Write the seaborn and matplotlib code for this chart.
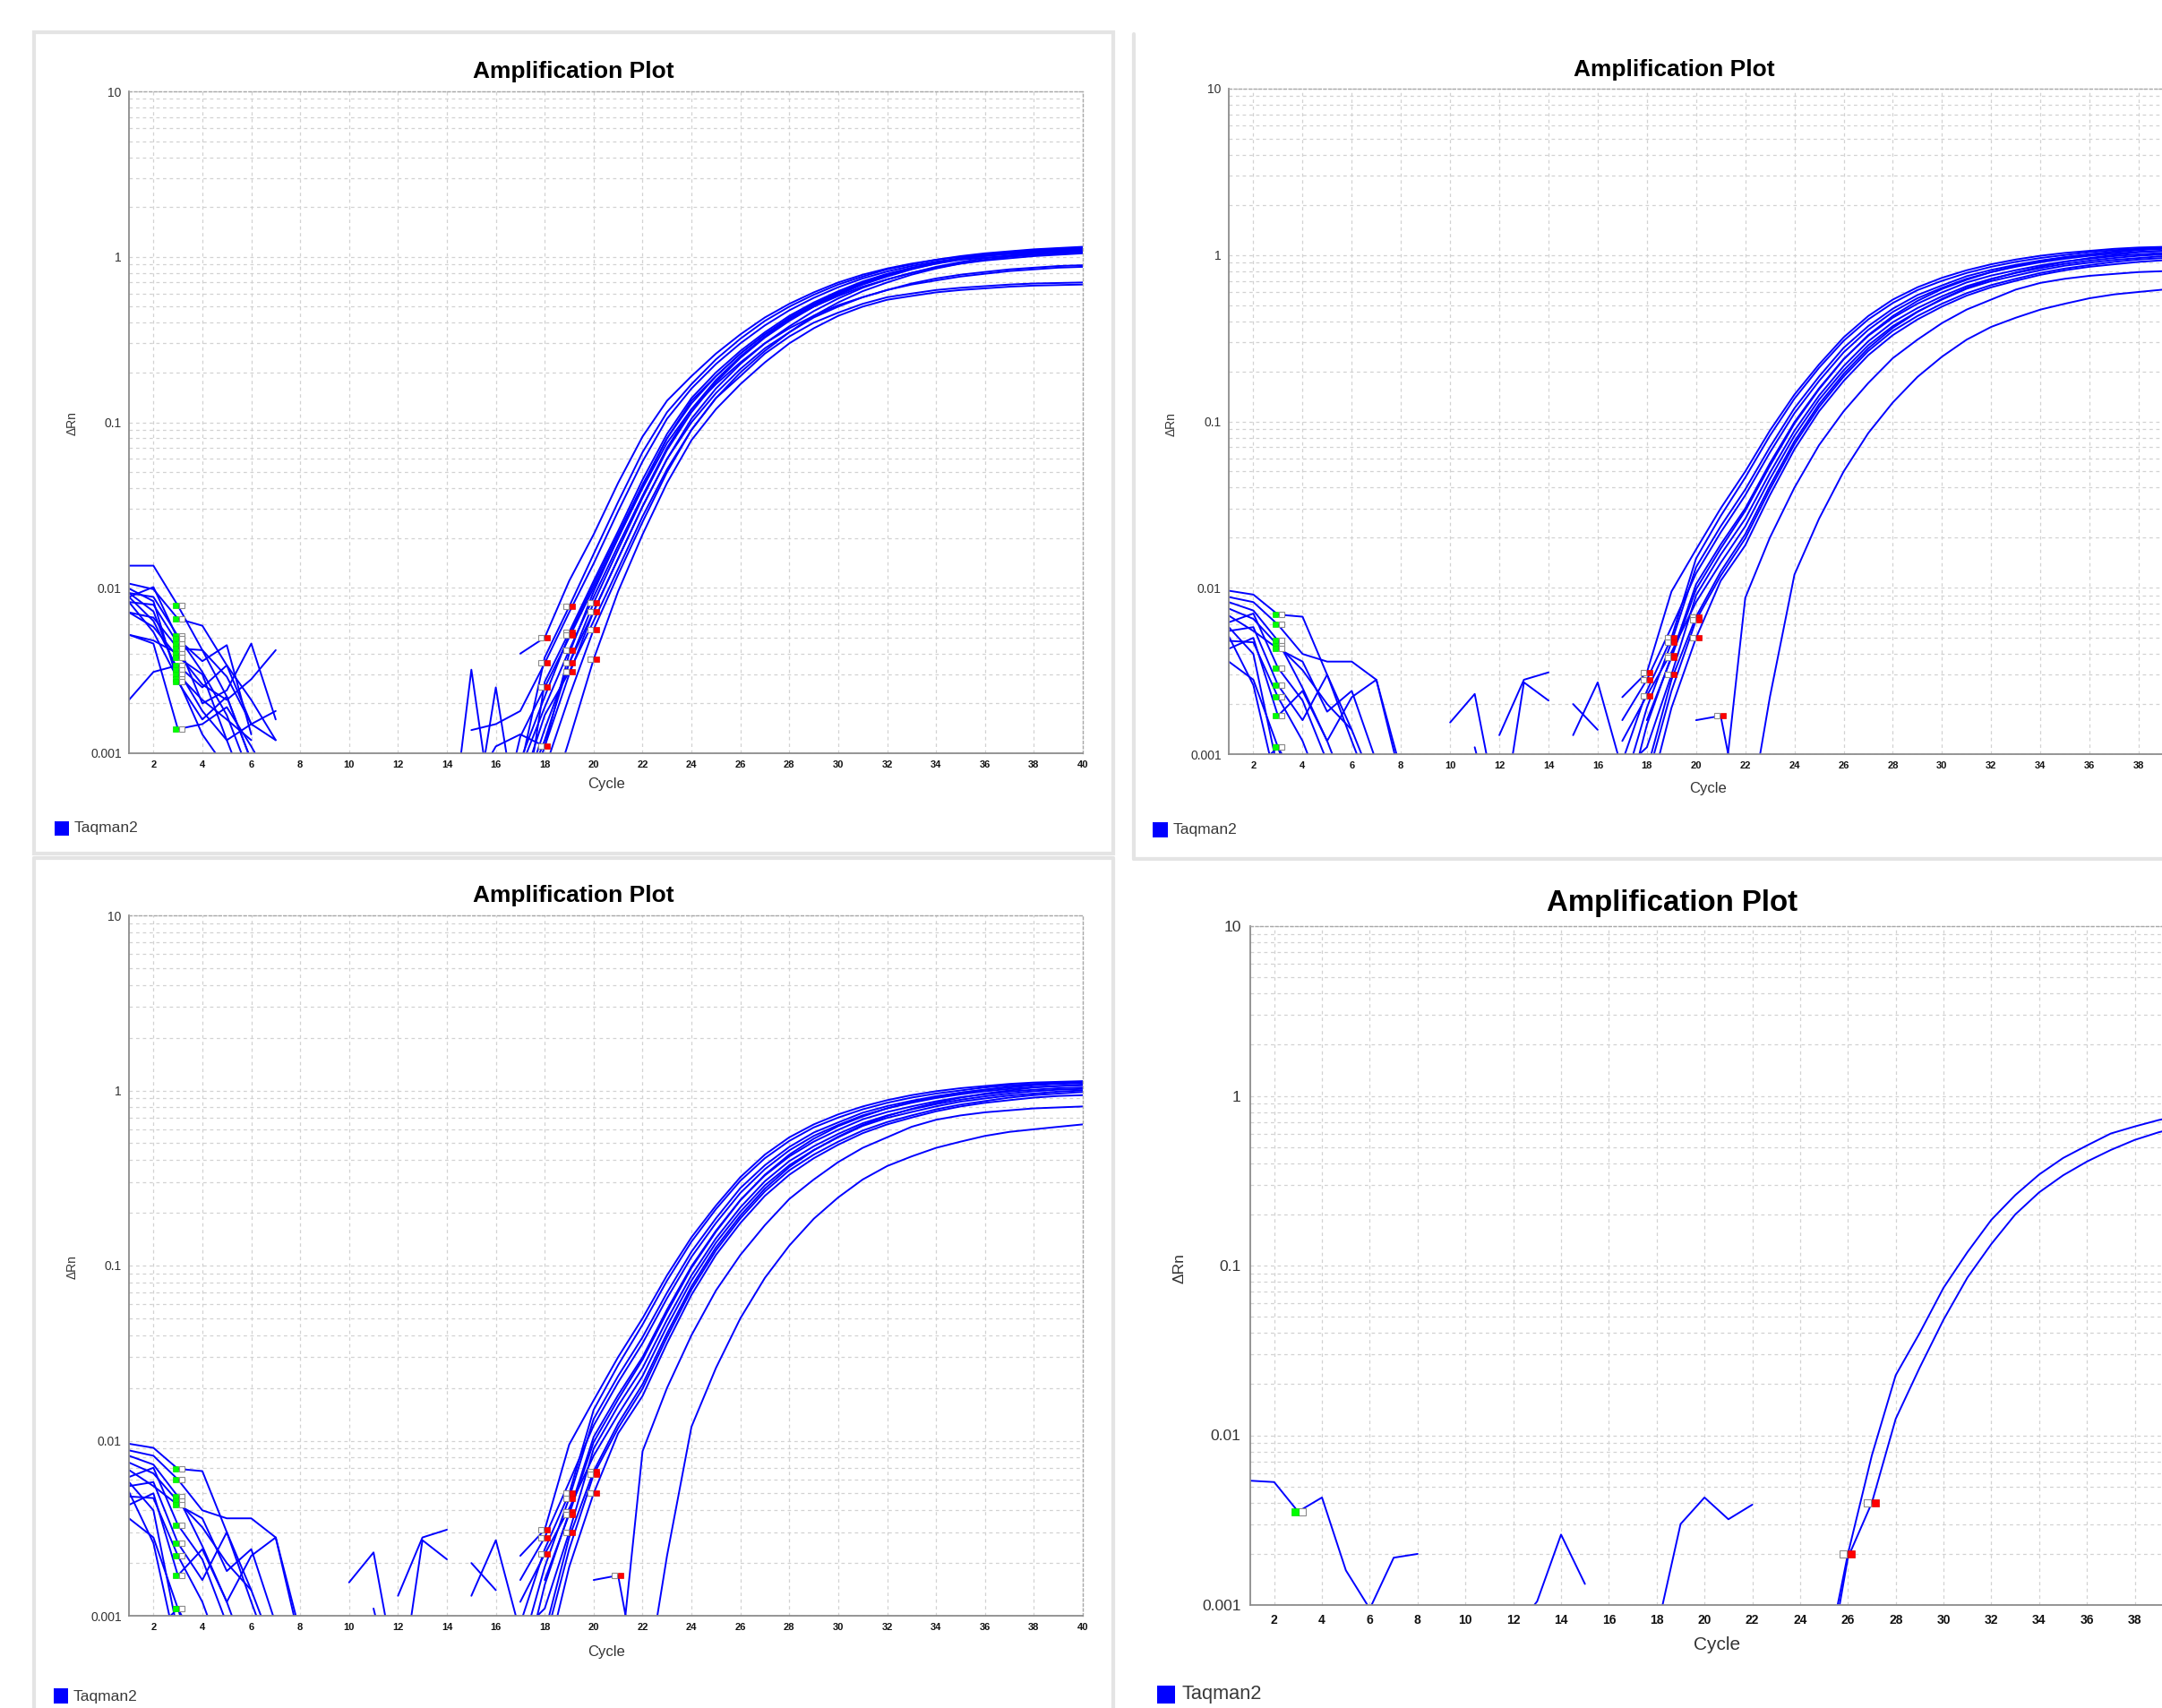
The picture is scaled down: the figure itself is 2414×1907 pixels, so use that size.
import numpy as np
import pandas as pd
import seaborn as sns
import matplotlib.pyplot as plt
import matplotlib.transforms as mtransforms
from matplotlib.lines import Line2D
from matplotlib.patches import Rectangle
from matplotlib.ticker import LogLocator, NullFormatter, NullLocator

# Delta Rn per cycle.
# Every well is a list of pieces (first cycle, values); cycles left out are
# where delta Rn is <= 0 and the log axis draws nothing.

# top-left run
tl_wells = [
    [(1, [0.0136, 0.0136, 0.0078, 0.0042, 0.0022, 0.0009]),
     (17, [0.0040, 0.005, 0.011, 0.021, 0.043, 0.082, 0.135, 0.19, 0.26, 0.34, 0.43, 0.52,
           0.61, 0.70, 0.78, 0.85, 0.91, 0.96, 1.0, 1.03, 1.06, 1.08, 1.10, 1.12])],
    [(1, [0.0106, 0.0098, 0.0065, 0.0059, 0.0034, 0.0015, 0.0012]),
     (15, [0.00138, 0.0015, 0.0018, 0.0035, 0.0071, 0.014, 0.029, 0.058, 0.105, 0.16, 0.225, 0.30,
           0.385, 0.475, 0.565, 0.655, 0.74, 0.815, 0.88, 0.935, 0.98, 1.015, 1.045, 1.07, 1.09, 1.11])],
    [(1, [0.0093, 0.0088, 0.0051, 0.0031, 0.0017, 0.0007]),
     (14, [0.0002, 0.0032, 0.0003, 0.00126, 0.0025, 0.005, 0.010, 0.020, 0.041, 0.080, 0.135, 0.19,
           0.26, 0.34, 0.43, 0.52, 0.61, 0.70, 0.78, 0.85, 0.91, 0.96, 0.99, 1.01, 1.03, 1.05, 1.06])],
    [(1, [0.0088, 0.0101, 0.0049, 0.0036, 0.0045, 0.0013]),
     (15, [0.0006, 0.0011, 0.0013, 0.0011, 0.004, 0.0095, 0.02, 0.04, 0.075, 0.12, 0.17, 0.23,
           0.30, 0.37, 0.44, 0.51, 0.57, 0.63, 0.68, 0.72, 0.76, 0.79, 0.82, 0.84, 0.86, 0.87])],
    [(1, [0.0082, 0.0079, 0.0046, 0.0020, 0.0024, 0.0046, 0.0016]),
     (17, [0.0008, 0.0038, 0.0077, 0.016, 0.033, 0.066, 0.115, 0.17, 0.24, 0.32, 0.41, 0.50,
           0.59, 0.68, 0.76, 0.84, 0.90, 0.96, 1.01, 1.05, 1.08, 1.11, 1.13, 1.15])],
    [(1, [0.0071, 0.0066, 0.0043, 0.0042, 0.0029, 0.0015]),
     (15, [0.0003, 0.0025, 0.0003, 0.0027, 0.0054, 0.011, 0.022, 0.045, 0.085, 0.14, 0.2, 0.27,
           0.35, 0.44, 0.53, 0.62, 0.71, 0.79, 0.86, 0.92, 0.97, 1.01, 1.04, 1.06, 1.08, 1.10])],
    [(1, [0.0052, 0.0048, 0.0040, 0.0026, 0.0021, 0.0028, 0.0042]),
     (17, [0.0009, 0.0022, 0.0052, 0.0105, 0.021, 0.042, 0.08, 0.13, 0.19, 0.26, 0.34, 0.42,
           0.50, 0.58, 0.66, 0.73, 0.80, 0.86, 0.91, 0.95, 0.98, 1.01, 1.03, 1.05])],
    [(1, [0.0071, 0.0058, 0.0038, 0.0030, 0.0012, 0.0005]),
     (17, [0.0008, 0.0019, 0.0042, 0.0088, 0.018, 0.036, 0.07, 0.12, 0.18, 0.25, 0.33, 0.42,
           0.51, 0.60, 0.69, 0.77, 0.85, 0.92, 0.98, 1.03, 1.07, 1.10, 1.12, 1.13])],
    [(1, [0.0021, 0.0031, 0.0034, 0.0025, 0.0034, 0.0021, 0.0012]),
     (17, [0.0005, 0.0014, 0.0035, 0.0072, 0.015, 0.031, 0.06, 0.105, 0.16, 0.225, 0.30, 0.38,
           0.47, 0.56, 0.65, 0.73, 0.80, 0.87, 0.93, 0.98, 1.02, 1.05, 1.07, 1.08])],
    [(1, [0.0088, 0.0063, 0.0032, 0.0018, 0.0012, 0.0015, 0.0018]),
     (17, [0.0006, 0.0017, 0.0031, 0.0063, 0.013, 0.027, 0.052, 0.09, 0.14, 0.19, 0.26, 0.33,
           0.40, 0.46, 0.52, 0.57, 0.60, 0.63, 0.65, 0.665, 0.68, 0.69, 0.695, 0.70])],
    [(1, [0.0093, 0.0072, 0.0030, 0.0021, 0.0016, 0.0012]),
     (17, [0.0005, 0.0012, 0.0035, 0.0081, 0.017, 0.035, 0.068, 0.115, 0.175, 0.245, 0.325, 0.41,
           0.50, 0.59, 0.68, 0.76, 0.84, 0.91, 0.97, 1.02, 1.06, 1.09, 1.11, 1.12])],
    [(1, [0.0082, 0.0054, 0.0028, 0.0013, 0.0008]),
     (17, [0.0004, 0.0011, 0.003, 0.0072, 0.015, 0.031, 0.06, 0.10, 0.15, 0.21, 0.28, 0.35,
           0.43, 0.50, 0.57, 0.63, 0.69, 0.74, 0.78, 0.81, 0.84, 0.86, 0.88, 0.89])],
    [(1, [0.0099, 0.0083, 0.0027, 0.0016, 0.0022, 0.0009]),
     (17, [0.0003, 0.0008, 0.0022, 0.0056, 0.012, 0.025, 0.05, 0.09, 0.14, 0.20, 0.27, 0.35,
           0.44, 0.53, 0.62, 0.70, 0.78, 0.85, 0.91, 0.96, 1.0, 1.03, 1.05, 1.06])],
    [(1, [0.0052, 0.0046, 0.0014, 0.0015, 0.0019, 0.0011, 0.0006]),
     (17, [0.0002, 0.0004, 0.0012, 0.0037, 0.0095, 0.021, 0.043, 0.078, 0.12, 0.17, 0.23, 0.30,
           0.37, 0.44, 0.50, 0.55, 0.58, 0.61, 0.63, 0.645, 0.66, 0.67, 0.675, 0.68])],
]
tl_red = [18, 18, 18, 18, 19, 19, 19, 19, 19, 19, 20, 20, 20, 20]

# top-right run (the bottom-left screenshot shows the same run)
tr_wells = [
    [(1, [0.0096, 0.0091, 0.0069, 0.0067, 0.0030, 0.0012, 0.0005]),
     (17, [0.0022, 0.0031, 0.0095, 0.017, 0.030, 0.050, 0.088, 0.145, 0.22, 0.32, 0.43, 0.54,
           0.64, 0.73, 0.81, 0.88, 0.94, 0.99, 1.03, 1.06, 1.09, 1.11, 1.12, 1.13])],
    [(1, [0.0088, 0.0082, 0.0060, 0.0040, 0.0036, 0.0036, 0.0028, 0.0008]),
     (10, [0.00155, 0.0023, 0.0004]),
     (17, [0.0009, 0.0024, 0.0050, 0.015, 0.027, 0.046, 0.082, 0.137, 0.21, 0.305, 0.41, 0.515,
           0.615, 0.70, 0.78, 0.85, 0.91, 0.96, 1.0, 1.04, 1.07, 1.09, 1.11, 1.12])],
    [(1, [0.0082, 0.0073, 0.0048, 0.0025, 0.0012, 0.0005]),
     (11, [0.0011, 0.0003]),
     (17, [0.0006, 0.0019, 0.0047, 0.0133, 0.0234, 0.039, 0.070, 0.12, 0.186, 0.277, 0.374, 0.476,
           0.575, 0.657, 0.746, 0.814, 0.873, 0.927, 0.971, 1.01, 1.04, 1.07, 1.09, 1.10])],
    [(1, [0.0075, 0.0065, 0.0045, 0.0032, 0.0020, 0.0014, 0.0006]),
     (12, [0.0013, 0.0028, 0.0031]),
     (17, [0.0016, 0.0028, 0.0058, 0.0122, 0.0215, 0.036, 0.065, 0.112, 0.175, 0.26, 0.355, 0.455,
           0.55, 0.635, 0.72, 0.79, 0.85, 0.905, 0.95, 0.99, 1.02, 1.045, 1.06, 1.07])],
    [(1, [0.0068, 0.0055, 0.0043, 0.0036, 0.0018, 0.0024, 0.0009]),
     (12, [0.0003, 0.0027, 0.0021]),
     (17, [0.0004, 0.0015, 0.0039, 0.0105, 0.0182, 0.030, 0.056, 0.099, 0.158, 0.237, 0.327, 0.42,
           0.51, 0.596, 0.684, 0.753, 0.811, 0.867, 0.915, 0.95, 0.985, 1.01, 1.03, 1.04])],
    [(1, [0.0062, 0.0070, 0.0033, 0.0021, 0.0009]),
     (15, [0.0020, 0.0014]),
     (18, [0.0016, 0.0038, 0.0098, 0.0172, 0.029, 0.054, 0.097, 0.156, 0.236, 0.33, 0.43, 0.53,
           0.625, 0.71, 0.79, 0.86, 0.92, 0.97, 1.01, 1.05, 1.08, 1.10, 1.11])],
    [(1, [0.0055, 0.0058, 0.0026, 0.0016, 0.0030, 0.0014]),
     (15, [0.0013, 0.0027, 0.0008, 0.0011, 0.0030, 0.0090, 0.0158, 0.026, 0.049, 0.088, 0.143, 0.215,
           0.303, 0.395, 0.48, 0.565, 0.65, 0.72, 0.78, 0.835, 0.885, 0.925, 0.96, 0.99, 1.01, 1.02])],
    [(1, [0.0048, 0.0047, 0.0022, 0.0012, 0.0005]),
     (17, [0.0012, 0.00225, 0.0041, 0.0082, 0.0141, 0.0234, 0.045, 0.082, 0.135, 0.203, 0.287, 0.374,
           0.457, 0.54, 0.627, 0.697, 0.753, 0.811, 0.863, 0.90, 0.935, 0.96, 0.985, 1.0])],
    [(1, [0.0043, 0.0050, 0.0017, 0.0024, 0.0012, 0.0022, 0.0028, 0.0007]),
     (17, [0.0002, 0.0008, 0.0028, 0.0067, 0.0125, 0.021, 0.041, 0.076, 0.127, 0.193, 0.275, 0.365,
           0.455, 0.545, 0.635, 0.715, 0.785, 0.85, 0.91, 0.96, 1.0, 1.04, 1.06, 1.08])],
    [(1, [0.0036, 0.0028, 0.0011, 0.0004]),
     (17, [0.0002, 0.0007, 0.0024, 0.0064, 0.0118, 0.0198, 0.039, 0.073, 0.122, 0.186, 0.265, 0.35,
           0.43, 0.51, 0.59, 0.66, 0.72, 0.78, 0.83, 0.87, 0.91, 0.94, 0.96, 0.98])],
    [(1, [0.0058, 0.0040, 0.0008]),
     (17, [0.0001, 0.0005, 0.0019, 0.0050, 0.011, 0.018, 0.036, 0.068, 0.115, 0.175, 0.25, 0.33,
           0.41, 0.49, 0.57, 0.64, 0.70, 0.76, 0.81, 0.85, 0.88, 0.91, 0.93, 0.94])],
    [(1, [0.0051, 0.0026, 0.0006]),
     (21, [0.0004, 0.0087, 0.02, 0.04, 0.072, 0.115, 0.17, 0.24, 0.31, 0.39, 0.47, 0.54,
           0.62, 0.68, 0.72, 0.75, 0.77, 0.79, 0.80, 0.81])],
    [(1, [0.0003, 0.0008, 0.0011, 0.0006]),
     (20, [0.0016, 0.0017, 0.0003, 0.0022, 0.012, 0.026, 0.05, 0.085, 0.13, 0.185, 0.245, 0.31,
           0.37, 0.42, 0.47, 0.51, 0.55, 0.58, 0.60, 0.62, 0.64])],
]
tr_red = [18, 19, 19, 18, 19, 19, 19, 18, 20, 20, 20, 21, 21]

# bottom-right run: two wells
br_wells = [
    [(1, [0.0054, 0.0053, 0.00355, 0.0043, 0.0016, 0.00095, 0.0019, 0.0020]),
     (12, [0.0007, 0.00105, 0.0026, 0.00133]),
     (18, [0.0007, 0.0030, 0.0043, 0.0032, 0.0039]),
     (25, [0.0004, 0.0020, 0.0076, 0.0226, 0.040, 0.074, 0.12, 0.186, 0.26, 0.344, 0.43, 0.51,
           0.60, 0.66, 0.72, 0.77])],
    [(25, [0.0003, 0.0019, 0.0040, 0.0125, 0.025, 0.048, 0.085, 0.134, 0.2, 0.27, 0.34, 0.41,
           0.48, 0.55, 0.61, 0.66])],
]
br_red = [26, 27]

baseline_start = 3
cycle_ticks = list(range(2, 41, 2))
cycle_ticks_cropped = list(range(2, 39, 2))   # right-hand shots are cut before 40
drn_ticks = [0.001, 0.01, 0.1, 1, 10]
drn_labels = ["0.001", "0.01", "0.1", "1", "10"]

sns.set_style("white")
plt.rcParams["font.family"] = ["Liberation Sans", "DejaVu Sans"]

W, H = 2414, 1907
fig = plt.figure(figsize=(W / 100, H / 100), dpi=100)
fig.patch.set_facecolor("white")


def fx(x):
    return x / W


def fy(y):
    return 1 - y / H


def at(pieces, c):
    for start, vals in pieces:
        if start <= c < start + len(vals):
            return vals[c - start]
    return np.nan


def frame_line(x0, y0, x1, y1):
    fig.add_artist(Line2D([fx(x0), fx(x1)], [fy(y0), fy(y1)], transform=fig.transFigure,
                          color="#e4e4e4", lw=3))


def panel(box, wells, red_cycles, ticks, title_xy, cycle_xy, drn_xy, key_box, key_xy, s):
    l, t, r, b = box
    ax = fig.add_axes([fx(l), fy(b), (r - l) / W, (b - t) / H])
    ax.set_facecolor("white")
    ax.set_yscale("log")

    rows = []
    for w, pieces in enumerate(wells):
        for p, (start, vals) in enumerate(pieces):
            for i, v in enumerate(vals):
                rows.append((f"{w}.{p}", start + i, v))
    df = pd.DataFrame(rows, columns=["seg", "cycle", "drn"])
    sns.lineplot(data=df, x="cycle", y="drn", units="seg", estimator=None, sort=False,
                 color="#0000ff", linewidth=1.4, legend=False, ax=ax)

    # baseline start (green) and end (red) markers, each with a small grey box
    gy = [at(p, baseline_start) for p in wells]
    gx = [baseline_start] * len(wells)
    ry = [at(p, c) for p, c in zip(wells, red_cycles)]
    off = lambda dx: mtransforms.offset_copy(ax.transData, fig=fig, x=dx, y=0, units="dots")
    ax.plot(gx, gy, ls="none", marker="s", ms=4.6 * s, mfc="white", mec="#8c8c8c", mew=0.8,
            transform=off(4 * s), zorder=4)
    ax.plot(gx, gy, ls="none", marker="s", ms=5 * s, mfc="#00ff00", mec="#00e000", mew=0.5,
            transform=off(-3 * s), zorder=5)
    ax.plot(red_cycles, ry, ls="none", marker="s", ms=4.6 * s, mfc="white", mec="#8c8c8c", mew=0.8,
            transform=off(-4 * s), zorder=4)
    ax.plot(red_cycles, ry, ls="none", marker="s", ms=5 * s, mfc="#ff0000", mec="#e00000", mew=0.5,
            transform=off(3 * s), zorder=5)

    ax.set_xlim(1, 40)
    ax.set_ylim(0.001, 10)
    ax.set_xticks(ticks)
    ax.set_xticklabels([str(c) for c in ticks])
    ax.set_yticks(drn_ticks)
    ax.set_yticklabels(drn_labels)
    ax.yaxis.set_minor_locator(LogLocator(base=10, subs=np.arange(2, 10)))
    ax.yaxis.set_minor_formatter(NullFormatter())
    ax.xaxis.set_minor_locator(NullLocator())
    ax.set_axisbelow(True)
    ax.grid(True, which="both", axis="y", color="#d2d2d2", lw=0.9, ls=(0, (3, 3)))
    ax.grid(True, which="major", axis="x", color="#d2d2d2", lw=0.9, ls=(0, (3, 3)))
    ax.tick_params(which="minor", length=0)
    ax.tick_params(axis="y", which="major", length=3 * s, width=1, color="#8c8c8c", pad=3 * s,
                   labelsize=10 * s, labelcolor="#333333")
    ax.tick_params(axis="x", which="major", length=3 * s, width=1, color="#8c8c8c", pad=2.5 * s,
                   labelsize=8 * s, labelcolor="#111111")
    for lab in ax.get_xticklabels():
        lab.set_fontweight("bold")
    for side in ["left", "bottom"]:
        ax.spines[side].set_color("#8c8c8c")
        ax.spines[side].set_linewidth(1.3)
    for side in ["top", "right"]:
        ax.spines[side].set_color("#a8a8a8")
        ax.spines[side].set_linewidth(1.0)
        ax.spines[side].set_linestyle((0, (2, 2)))
    ax.set_xlabel("")
    ax.set_ylabel("")

    fig.text(fx(title_xy[0]), fy(title_xy[1]), "Amplification Plot", ha="center", va="center",
             fontsize=19 * s, fontweight="bold", color="black")
    fig.text(fx(cycle_xy[0]), fy(cycle_xy[1]), "Cycle", ha="center", va="center",
             fontsize=12 * s, color="#333333")
    fig.text(fx(drn_xy[0]), fy(drn_xy[1]), "ΔRn", ha="center", va="center", rotation=90,
             fontsize=10 * s, color="#333333")
    kx0, ky0, kx1, ky1 = key_box
    fig.add_artist(Rectangle((fx(kx0), fy(ky1)), (kx1 - kx0) / W, (ky1 - ky0) / H,
                             transform=fig.transFigure, facecolor="#0000ff", edgecolor="none"))
    fig.text(fx(key_xy[0]), fy(key_xy[1]), "Taqman2", ha="left", va="center",
             fontsize=12.5 * s, color="#3a3a3a")
    return ax


# panel frames
fig.add_artist(Rectangle((fx(38), fy(953)), (1243 - 38) / W, (953 - 36) / H, transform=fig.transFigure,
                         fill=False, edgecolor="#e4e4e4", lw=3))
frame_line(1266, 38, 1266, 959)
frame_line(1266, 959, 2414, 959)
frame_line(38, 958, 1243, 958)
frame_line(38, 958, 38, 1907)
frame_line(1243, 958, 1243, 1907)

panel((144, 102, 1209, 841), tl_wells, tl_red, cycle_ticks, (640, 80), (677, 876), (81, 473),
      (61, 917, 77, 933), (83, 925), 1.0)
panel((1372, 99, 2443, 842), tr_wells, tr_red, cycle_ticks_cropped, (1869, 78), (1907, 880), (1308, 474),
      (1287, 918, 1304, 935), (1310, 927), 1.0)
panel((144, 1022, 1209, 1804), tr_wells, tr_red, cycle_ticks, (640, 1000), (677, 1844), (81, 1415),
      (60, 1885, 76, 1902), (82, 1894), 1.0)
panel((1396, 1034, 2437, 1792), br_wells, br_red, cycle_ticks_cropped, (1867, 1009), (1917, 1837), (1317, 1416),
      (1292, 1882, 1312, 1902), (1320, 1892), 1.25)

fig.savefig("out.png", dpi=100, facecolor="white")
